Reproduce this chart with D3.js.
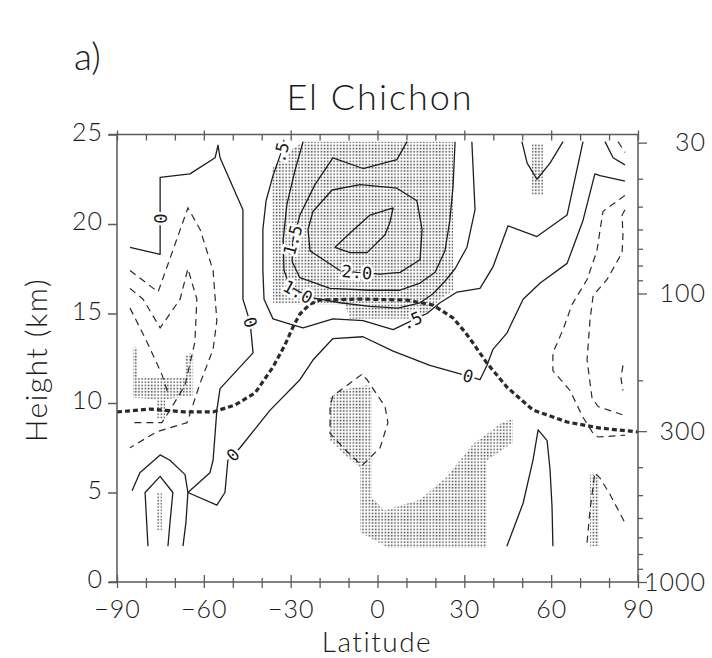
<!DOCTYPE html>
<html>
<head>
<meta charset="utf-8">
<script src="https://cdn.jsdelivr.net/npm/d3@7"></script>
<style>
  body { margin: 0; background: #fff; }
  text { font-family: Lato, "DejaVu Sans", sans-serif; font-weight: 300; fill: #1a1a1a; }
</style>
</head>
<body>
<svg id="chart" width="712" height="658"></svg>
<script>
// ---- axis definitions ----
const latTicks = d3.range(-90, 91, 10);
const latLabels = [-90, -60, -30, 0, 30, 60, 90];
const heightTicks = [0, 5, 10, 15, 20, 25];
const pressureLabels = [30, 100, 300, 1000];
const pressureMinor = [40, 50, 60, 70, 80, 90, 200, 400, 500, 600, 700, 800, 900];
const scaleHeightKm = 7;

// ---- thermal tropopause [lat, km] ----
const tropopause = [[-90,9.5],[-78.6,9.66],[-66.5,9.5],[-56.8,9.5],[-49.2,9.89],[-42.3,10.56],[-36.1,12.01],[-32.0,13.24],[-29.2,14.25],[-26.8,14.97],[-23.3,15.53],[-19.9,15.75],[-6.0,15.81],[10.2,15.75],[19.2,15.47],[26.1,14.75],[30.2,13.97],[33.0,13.35],[37.8,12.23],[44.7,10.89],[53.7,9.61],[65.5,8.94],[76.9,8.6],[90,8.38]];

// ---- non-negative contours [lat, km] ----
const contourZero = [[-85.5,18.7],[-75.1,18.3],[-75.1,22.6],[-64.8,22.8],[-56.1,23.7],[-55.1,24.4],[-54.4,23.7],[-46.5,20.8],[-46.5,15.8],[-44.0,14.5],[-43.0,12.8],[-54.4,10.8],[-55.5,9.6],[-56.8,6.8],[-57.9,6.1],[-65.5,5.0],[-55.5,4.3],[-52.7,5.0],[-51.7,6.8],[-49.9,7.1],[-47.5,7.5],[-37.1,9.6],[-26.8,11.3],[-22.3,12.4],[-15.4,13.6],[-5.0,13.7],[5.4,12.9],[18.1,12.1],[31.3,11.5],[35.4,11.3],[37.8,12.1],[39.9,13.0],[44.7,13.9],[50.3,15.8],[56.2,16.7],[65.5,17.8],[71.0,20.2],[75.1,22.8],[76.9,22.7],[85.5,22.4]];
const contourHalf = [[-32.3,24.7],[-33.3,24.0],[-36.1,22.7],[-38.5,21.3],[-39.6,19.7],[-39.6,17.4],[-39.2,15.8],[-36.1,14.7],[-30.2,14.4],[-25.7,14.2],[-15.4,14.7],[-5.0,14.6],[5.4,14.1],[11.9,14.6],[17.1,15.0],[21.6,15.6],[27.5,16.2],[35.4,16.4],[39.9,17.6],[45.1,19.9],[55.1,19.3],[65.5,20.5],[71.0,24.6]];
const contourOne = [[-25.7,24.6],[-28.5,23.0],[-31.3,21.1],[-32.6,19.1],[-32.3,17.4],[-30.2,16.5],[-23.3,15.9],[-13.0,15.6],[-2.6,15.4],[7.1,15.3],[14.7,15.6],[19.2,16.1],[23.3,16.8],[26.8,17.5],[30.9,18.7],[33.7,20.8],[32.6,24.6]];
const contourOneHalf = [[10.2,24.6],[6.7,23.6],[-5.0,23.1],[-15.4,23.7],[-21.6,22.2],[-26.8,20.5],[-29.2,19.1],[-29.5,17.9],[-26.8,17.0],[-16.4,16.4],[-2.6,16.3],[7.8,16.3],[14.7,16.7],[19.9,17.3],[23.3,18.5],[25.0,20.2],[26.1,22.1],[26.8,24.6]];
const contourTwo = [[-15.7,21.9],[-6.0,22.2],[6.7,22.0],[13.6,21.3],[15.4,19.7],[14.7,18.0],[7.8,17.3],[0.9,17.2],[-7.1,17.3],[-13.0,17.4],[-23.3,18.5],[-24.0,19.7],[-22.3,20.7],[-15.7,21.9]];
const contourTwoHalf = [[-14.7,18.7],[-8.8,19.6],[-2.6,20.5],[5.4,20.9],[4.3,20.1],[2.6,19.4],[-3.6,18.4],[-9.5,18.4],[-14.7,18.7]];
const contourSouthOuter = [[-84.8,5.1],[-82.1,6.1],[-75.1,7.1],[-71.7,6.8],[-66.5,6.0],[-65.5,5.0],[-66.2,3.3],[-67.2,2.0]];
const contourSouthInner = [[-79.3,2.0],[-80.3,5.0],[-75.1,5.9],[-70.7,5.0],[-71.7,3.3],[-72.4,2.0]];
const contourNorthLow = [[44.7,2.0],[47.5,3.2],[50.3,4.4],[53.7,6.8],[55.5,8.5],[58.6,7.9],[59.6,6.3],[60.3,4.2],[60.6,2.0]];
const contourNorthTop = [[49.9,24.6],[51.7,23.4],[55.1,22.5],[59.6,23.4],[64.1,24.6]];
const contourPoleTop = [[78.6,24.6],[81.4,23.7],[85.5,23.3]];
const solidContours = [contourZero, contourHalf, contourOne, contourOneHalf, contourTwo, contourTwoHalf,
  contourSouthOuter, contourSouthInner, contourNorthLow, contourNorthTop, contourPoleTop];

// ---- negative contours [lat, km] ----
const negSouthA = [[-85.5,17.4],[-75.8,16.2],[-65.5,20.9],[-61.3,19.7],[-56.8,17.4],[-55.5,14.6],[-56.8,13.0],[-61.3,11.1],[-65.8,8.9],[-76.2,8.4],[-85.5,7.5]];
const negSouthB = [[-85.5,16.4],[-81.0,15.8],[-75.1,14.2],[-68.2,15.8],[-65.5,17.5],[-62.4,15.8],[-63.1,13.4],[-66.5,11.0],[-71.7,9.6],[-74.5,8.9],[-85.5,8.9]];
const negSouthC = [[-85.5,15.3],[-79.6,13.4],[-74.5,11.6],[-72.5,10.6]];
const negTropics = [[-5.4,11.6],[-15.4,10.4],[-16.4,9.8],[-16.4,8.3],[-11.2,7.4],[-5.4,6.5],[0.9,7.5],[3.6,8.9],[2.6,9.8],[-3.6,11.3],[-5.4,11.6]];
const negNorthOuter = [[85.5,21.6],[77.9,20.7],[75.8,18.5],[72.4,16.9],[67.2,15.5],[64.1,14.1],[60.6,12.8],[60.6,11.8],[66.5,10.7],[71.0,9.2],[74.5,8.3],[76.2,8.1],[85.5,8.2]];
const negNorthInner = [[85.5,20.8],[84.5,20.5],[84.8,19.4],[84.5,18.4],[79.3,16.9],[74.5,16.0],[73.4,14.6],[72.4,12.4],[74.1,10.3],[76.2,9.8],[85.5,9.3]];
const negNorthEdge = [[84.8,12.1],[84.1,11.4],[84.8,10.7]];
const negNorthLow = [[72.4,2.2],[73.4,4.0],[75.1,6.1],[76.9,5.8],[80.3,4.9],[85.5,3.3]];
const negPoleTop = [[83.1,24.6],[85.5,24.0]];
const dashedContours = [negSouthA, negSouthB, negSouthC, negTropics, negNorthOuter, negNorthInner, negNorthEdge, negNorthLow, negPoleTop];

// ---- significance (stippled) regions [lat, km] ----
const stippleStratosphere = [[-36.4,23.1],[-32.0,23.9],[-25.7,24.6],[26.1,24.6],[26.1,16.3],[21.6,15.8],[14.7,14.7],[-9.5,14.7],[-11.2,15.5],[-26.8,15.5],[-36.1,15.6]];
const stippleTropics = [[-16.4,10.3],[-13.0,10.7],[-3.3,11.0],[-1.9,10.7],[-1.9,4.7],[2.6,4.0],[14.7,4.6],[24.0,5.9],[33.0,7.7],[43.0,8.9],[46.8,9.1],[46.8,7.8],[37.8,6.8],[37.8,1.9],[3.6,1.9],[-6.0,2.8],[-6.0,6.4],[-11.2,7.1],[-16.4,7.9]];
const stippleSouthPole = [[-84.5,13.1],[-83.1,13.1],[-83.1,11.4],[-66.5,11.4],[-66.5,12.7],[-63.7,12.8],[-63.7,10.4],[-73.4,10.2],[-73.4,9.1],[-76.2,9.1],[-76.2,10.2],[-84.5,10.3]];
const stippleSouthLow = [[-76.2,5.0],[-74.5,5.0],[-74.5,2.9],[-76.2,2.9]];
const stippleNorthTop = [[53.4,24.5],[57.2,24.5],[57.2,21.6],[53.4,21.6]];
const stippleNorthLow = [[73.4,6.0],[76.5,6.0],[76.5,2.0],[73.4,2.0]];
const stippleRegions = [stippleStratosphere, stippleTropics, stippleSouthPole, stippleSouthLow, stippleNorthTop, stippleNorthLow];

// ---- contour value labels ----
const contourLabels = [
  { text: "0", lat: -75.1, km: 20.3 },
  { text: "0", lat: -44.0, km: 14.5 },
  { text: "0", lat: -49.9, km: 7.1 },
  { text: "0", lat: 31.3, km: 11.5 },
  { text: ".5", lat: -33.3, km: 24.0 },
  { text: "1.5", lat: -29.2, km: 19.1 },
  { text: "2.0", lat: -7.1, km: 17.3 },
  { text: "1.0", lat: -27.5, km: 16.2 },
  { text: ".5", lat: 11.9, km: 14.6 }
];

// ---- layout ----
const svg = d3.select("#chart");
const plotL = 117, plotR = 638, plotT = 134.5, plotB = 582;
const x = d3.scaleLinear().domain([-90, 90]).range([plotL, plotR]);
const y = d3.scaleLinear().domain([0, 25]).range([plotB, plotT]);
const pScale = d3.scaleLog()
  .domain([1000, 1000 * Math.exp(-25 / scaleHeightKm)])
  .range([plotB, plotT]);

const line = d3.line().x(d => x(d[0])).y(d => y(d[1]));

const defs = svg.append("defs");
defs.append("clipPath").attr("id", "plotClip")
  .append("rect").attr("x", plotL).attr("y", plotT).attr("width", plotR - plotL).attr("height", plotB - plotT);
const pat = defs.append("pattern").attr("id", "stipple")
  .attr("patternUnits", "userSpaceOnUse").attr("width", 3.2).attr("height", 3.2);
pat.append("rect").attr("x", 0.6).attr("y", 0.6).attr("width", 1.5).attr("height", 1.5).attr("fill", "#444");

const plot = svg.append("g").attr("clip-path", "url(#plotClip)");

plot.selectAll("path.stip").data(stippleRegions).join("path")
  .attr("class", "stip")
  .attr("d", d => line(d) + "Z")
  .attr("fill", "url(#stipple)");

plot.selectAll("path.solid").data(solidContours).join("path")
  .attr("class", "solid")
  .attr("d", line)
  .attr("fill", "none").attr("stroke", "#1e1e1e").attr("stroke-width", 1.3)
  .attr("stroke-linejoin", "round");

plot.selectAll("path.dash").data(dashedContours).join("path")
  .attr("class", "dash")
  .attr("d", line)
  .attr("fill", "none").attr("stroke", "#2a2a2a").attr("stroke-width", 1.2)
  .attr("stroke-dasharray", "7,5");

plot.append("path").datum(tropopause)
  .attr("d", line)
  .attr("fill", "none").attr("stroke", "#2a2a2a").attr("stroke-width", 3.2)
  .attr("stroke-dasharray", "5,3");

// orient each label along the nearest contour segment
const allLines = solidContours.concat(dashedContours);
function labelAngle(lb) {
  const px = x(lb.lat), py = y(lb.km);
  let best = Infinity, ang = 0;
  allLines.forEach(c => {
    for (let i = 0; i < c.length - 1; i++) {
      const ax = x(c[i][0]), ay = y(c[i][1]), bx = x(c[i + 1][0]), by = y(c[i + 1][1]);
      const dx = bx - ax, dy = by - ay;
      const t = Math.max(0, Math.min(1, ((px - ax) * dx + (py - ay) * dy) / (dx * dx + dy * dy)));
      const qx = ax + t * dx - px, qy = ay + t * dy - py;
      const dist = qx * qx + qy * qy;
      if (dist < best) { best = dist; ang = Math.atan2(dy, dx) * 180 / Math.PI; }
    }
  });
  if (ang > 90) ang -= 180;
  if (ang <= -90) ang += 180;
  return ang;
}

svg.append("g").selectAll("text").data(contourLabels).join("text")
  .attr("transform", d => `translate(${x(d.lat)},${y(d.km)}) rotate(${labelAngle(d)})`)
  .attr("text-anchor", "middle").attr("dy", "0.35em")
  .style("font-family", "'DejaVu Sans Mono', monospace")
  .style("font-weight", "normal")
  .style("font-size", "17px")
  .attr("stroke", "#fff").attr("stroke-width", 5).attr("paint-order", "stroke")
  .text(d => d.text);

// ---- frame and axes ----
const frameColor = "#5a5a5a";
svg.append("rect").attr("x", plotL).attr("y", plotT).attr("width", plotR - plotL).attr("height", plotB - plotT)
  .attr("fill", "none").attr("stroke", frameColor).attr("stroke-width", 1.5);

const axisFont = g => g.selectAll("text")
  .style("font-family", "Lato, 'DejaVu Sans', sans-serif").style("font-weight", "300")
  .style("font-size", "25px").style("letter-spacing", "1px").attr("fill", "#1a1a1a");

// left: height
const yAxis = svg.append("g").attr("transform", `translate(${plotL},0)`)
  .call(d3.axisLeft(y).tickValues(heightTicks).tickSize(9).tickPadding(5).tickFormat(d3.format("d")));
yAxis.select(".domain").remove();
yAxis.selectAll("line").attr("stroke", frameColor).attr("stroke-width", 1.5);
yAxis.call(axisFont);
yAxis.selectAll("text").attr("dy", "0.22em");

// bottom: latitude
const xAxis = svg.append("g").attr("transform", `translate(0,${plotB})`)
  .call(d3.axisBottom(x).tickValues(latTicks).tickSize(6).tickPadding(12)
    .tickFormat(d => latLabels.includes(d) ? d3.format("d")(d) : ""));
xAxis.select(".domain").remove();
xAxis.selectAll("line")
  .attr("y1", d => latLabels.includes(d) ? -7 : -4).attr("y2", 6)
  .attr("stroke", frameColor).attr("stroke-width", 1.3);
xAxis.call(axisFont);

// top: latitude ticks only
const xTop = svg.append("g").attr("transform", `translate(0,${plotT})`)
  .call(d3.axisTop(x).tickValues(latTicks).tickSize(0).tickFormat(""));
xTop.select(".domain").remove();
xTop.selectAll("line")
  .attr("y1", d => latLabels.includes(d) ? -4 : 0).attr("y2", 6)
  .attr("stroke", frameColor).attr("stroke-width", 1.3);

// right: pressure (hPa)
const pAxis = svg.append("g").attr("transform", `translate(${plotR},0)`)
  .call(d3.axisRight(pScale).tickValues(pressureLabels.concat(pressureMinor)).tickSize(6)
    .tickFormat(d => pressureLabels.includes(d) ? String(d) : ""));
pAxis.select(".domain").remove();
pAxis.selectAll("line")
  .attr("x2", d => pressureLabels.includes(d) ? 9 : 5)
  .attr("stroke", frameColor).attr("stroke-width", 1.3);
pAxis.selectAll("text").attr("x", 706 - plotR).attr("text-anchor", "end");
pAxis.call(axisFont);

// corner extensions of the top and bottom frame lines
svg.append("line").attr("x1", plotL - 8).attr("x2", plotL).attr("y1", plotT).attr("y2", plotT)
  .attr("stroke", frameColor).attr("stroke-width", 1.5);
svg.append("line").attr("x1", plotL - 8).attr("x2", plotL).attr("y1", plotB).attr("y2", plotB)
  .attr("stroke", frameColor).attr("stroke-width", 1.5);

// ---- titles ----
svg.append("text").attr("x", 74).attr("y", 70).style("font-size", "37px").text("a)");
svg.append("text").attr("x", 380).attr("y", 110).attr("text-anchor", "middle")
  .style("font-size", "36px").style("letter-spacing", "2px").text("El Chichon");
svg.append("text").attr("transform", "translate(47,360) rotate(-90)").attr("text-anchor", "middle")
  .style("font-size", "30px").style("letter-spacing", "1.5px").text("Height (km)");
svg.append("text").attr("x", 377).attr("y", 652).attr("text-anchor", "middle")
  .style("font-size", "28px").style("letter-spacing", "1.5px").text("Latitude");
</script>
</body>
</html>
